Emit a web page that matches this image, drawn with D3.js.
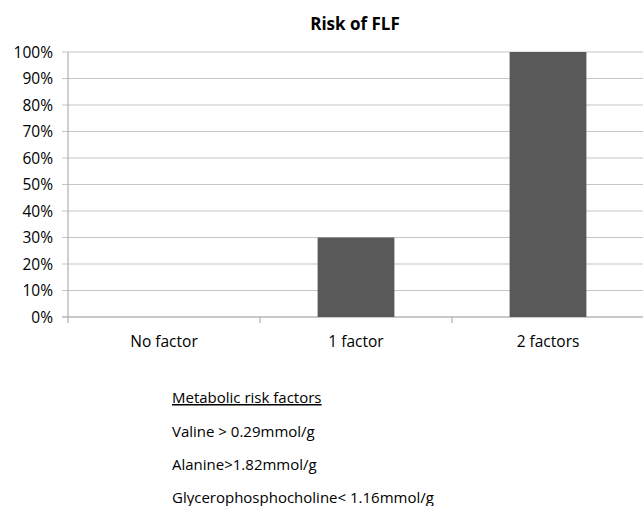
<!DOCTYPE html>
<html>
<head>
<meta charset="utf-8">
<script src="https://cdn.jsdelivr.net/npm/d3@7"></script>
<style>
  body { margin: 0; background: #fff; }
  text { font-family: "Open Sans", "Noto Sans", sans-serif; fill: #000; }
</style>
</head>
<body>
<svg id="chart" width="643" height="506"></svg>
<script>
// data
const categories = ['No factor', '1 factor', '2 factors'];
const risk = [0, 0.30, 1.00];
const yTicks = [0, 0.1, 0.2, 0.3, 0.4, 0.5, 0.6, 0.7, 0.8, 0.9, 1.0];
const notes = ['Valine > 0.29mmol/g', 'Alanine>1.82mmol/g', 'Glycerophosphocholine< 1.16mmol/g'];
const notesTitle = 'Metabolic risk factors';

const svg = d3.select('#chart');

const x = d3.scaleBand().domain(categories).range([68, 644]).paddingInner(0).paddingOuter(0);
const y = d3.scaleLinear().domain([0, 1]).range([317, 52]);

// title
svg.append('text')
   .attr('x', 355).attr('y', 30)
   .attr('text-anchor', 'middle')
   .style('font-size', '17px').style('font-weight', 'bold')
   .text('Risk of FLF');

// gridlines
svg.append('g')
   .selectAll('line')
   .data(yTicks)
   .join('line')
   .attr('x1', 62).attr('x2', 643)
   .attr('y1', d => y(d)).attr('y2', d => y(d))
   .attr('stroke', '#c6c6c6').attr('stroke-width', 1.2);

// y labels
svg.append('g')
   .selectAll('text')
   .data(yTicks)
   .join('text')
   .attr('x', 53).attr('y', d => y(d))
   .attr('dy', '0.36em')
   .attr('text-anchor', 'end')
   .style('font-size', '15.5px')
   .text(d => d3.format('.0%')(d));

// axis lines
svg.append('line')
   .attr('x1', 68).attr('x2', 68).attr('y1', y(1)).attr('y2', 323)
   .attr('stroke', '#b0b0b0').attr('stroke-width', 1.2);
svg.append('line')
   .attr('x1', 62).attr('x2', 643).attr('y1', y(0)).attr('y2', y(0))
   .attr('stroke', '#b0b0b0').attr('stroke-width', 1.2);
svg.append('g')
   .selectAll('line')
   .data(categories.slice(1))
   .join('line')
   .attr('x1', d => x(d)).attr('x2', d => x(d))
   .attr('y1', y(0)).attr('y2', 323)
   .attr('stroke', '#b0b0b0').attr('stroke-width', 1.2);

// bars
const bw = x.bandwidth() * 0.4;
svg.append('g')
   .selectAll('rect')
   .data(categories)
   .join('rect')
   .attr('x', d => x(d) + (x.bandwidth() - bw) / 2)
   .attr('width', bw)
   .attr('y', (d, i) => y(risk[i]))
   .attr('height', (d, i) => y(0) - y(risk[i]))
   .attr('fill', '#595959');

// category labels
svg.append('g')
   .selectAll('text')
   .data(categories)
   .join('text')
   .attr('x', d => x(d) + x.bandwidth() / 2)
   .attr('y', 347)
   .attr('text-anchor', 'middle')
   .style('font-size', '15.5px')
   .text(d => d);

// notes
svg.append('text')
   .attr('x', 172).attr('y', 403)
   .style('font-size', '15px')
   .style('text-decoration', 'underline')
   .text(notesTitle);
svg.append('g')
   .selectAll('text')
   .data(notes)
   .join('text')
   .attr('x', 172)
   .attr('y', (d, i) => 437 + i * 33)
   .style('font-size', '15px')
   .text(d => d);
</script>
</body>
</html>
